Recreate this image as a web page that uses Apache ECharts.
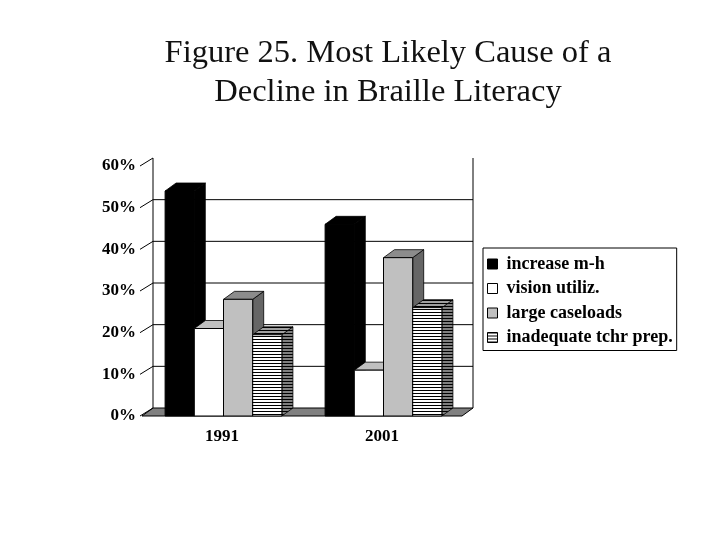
<!DOCTYPE html>
<html>
<head>
<meta charset="utf-8">
<script src="https://cdn.jsdelivr.net/npm/echarts@6/dist/echarts.min.js"></script>
<style>
  html, body { margin: 0; padding: 0; background: #fff; }
  #main { width: 720px; height: 540px; }
</style>
</head>
<body>
<div id="main"></div>
<script>
// data
var categories = ['1991', '2001'];
var seriesNames = ['increase m-h', 'vision utiliz.', 'large caseloads', 'inadequate tchr prep.'];
var increaseMH = [54, 46];
var visionUtiliz = [21, 11];
var largeCaseloads = [28, 38];
var inadequatePrep = [19.5, 26];
var yTicks = [0, 10, 20, 30, 40, 50, 60];

var DX = 11, DY = -8;   // depth offset of the fake 3d
var SERIF = '"Liberation Serif", "Times New Roman", serif';

// striped fill (horizontal lines)
function stripes(bg) {
    var c = document.createElement('canvas');
    c.width = 4; c.height = 3;
    var ctx = c.getContext('2d');
    ctx.fillStyle = bg;
    ctx.fillRect(0, 0, 4, 3);
    ctx.fillStyle = '#000';
    ctx.fillRect(0, 0, 4, 1);
    return { image: c, repeat: 'repeat' };
}

var faces = [
    { front: '#000000', top: '#000000', side: '#000000' },
    { front: '#ffffff', top: '#c0c0c0', side: '#808080' },
    { front: '#c0c0c0', top: '#8c8c8c', side: '#666666' },
    { front: stripes('#ffffff'), top: stripes('#a0a0a0'), side: stripes('#808080') }
];
var values = [increaseMH, visionUtiliz, largeCaseloads, inadequatePrep];

function bar3d(k) {
    var f = faces[k];
    return function (params, api) {
        var cat = api.value(0), val = api.value(1);
        var base = api.coord([cat, 0]);
        var top = api.coord([cat, val]);
        var band = api.size([1, 0])[0];
        var w = band * 0.1825;
        var x0 = base[0] - 2 * w + k * w + 1.5;
        var y0 = base[1], y1 = top[1];
        return {
            type: 'group',
            children: [
                { type: 'polygon',
                  shape: { points: [[x0 + w, y1], [x0 + w + DX, y1 + DY], [x0 + w + DX, y0 + DY], [x0 + w, y0]] },
                  style: { fill: f.side, stroke: '#000', lineWidth: 0.8 } },
                { type: 'polygon',
                  shape: { points: [[x0, y1], [x0 + DX, y1 + DY], [x0 + w + DX, y1 + DY], [x0 + w, y1]] },
                  style: { fill: f.top, stroke: '#000', lineWidth: 0.8 } },
                { type: 'rect',
                  shape: { x: x0, y: y1, width: w, height: y0 - y1 },
                  style: { fill: f.front, stroke: '#000', lineWidth: 1 } }
            ]
        };
    };
}

// floor, back wall gridlines, slanted ticks
function frame(params, api) {
    var v = api.value(1);
    var y = api.coord([0, v])[1];
    var yb = api.coord([0, 0])[1];
    var cs = params.coordSys;
    var left = cs.x, right = cs.x + cs.width;
    var line = { stroke: '#000', lineWidth: 1 };
    var kids = [
        { type: 'line', shape: { x1: left - 2, y1: y, x2: left + DX, y2: y + DY }, style: line }
    ];
    if (v === 0) {
        kids.unshift({ type: 'polygon',
            shape: { points: [[left, y], [left + DX, y + DY], [right + DX, y + DY], [right, y]] },
            style: { fill: '#808080', stroke: '#000', lineWidth: 1 } });
    } else if (v === 60) {
        kids.push({ type: 'line', shape: { x1: left + DX, y1: y + DY, x2: left + DX, y2: yb + DY }, style: line });
        kids.push({ type: 'line', shape: { x1: right + DX, y1: y + DY, x2: right + DX, y2: yb + DY }, style: line });
    } else {
        kids.push({ type: 'line', shape: { x1: left + DX, y1: y + DY, x2: right + DX, y2: y + DY }, style: line });
    }
    return { type: 'group', children: kids };
}

var series = [{
    type: 'custom',
    name: 'frame',
    z: 1,
    clip: false,
    silent: true,
    renderItem: frame,
    encode: { x: 0, y: 1 },
    data: yTicks.map(function (v) { return [0, v]; })
}];
seriesNames.forEach(function (name, k) {
    series.push({
        type: 'custom',
        name: name,
        z: 2,
        clip: false,
        renderItem: bar3d(k),
        encode: { x: 0, y: 1 },
        itemStyle: { color: faces[k].front, borderColor: '#000', borderWidth: 1 },
        data: values[k].map(function (v, i) { return [i, v]; })
    });
});

var chart = echarts.init(document.getElementById('main'));
chart.setOption({
    animation: false,
    backgroundColor: '#fff',
    title: {
        text: 'Figure 25. Most Likely Cause of a\nDecline in Braille Literacy',
        left: 388,
        top: 34,
        padding: 0,
        textAlign: 'center',
        textStyle: { fontFamily: SERIF, fontWeight: 'normal', fontSize: 32.5, lineHeight: 39, color: '#111' }
    },
    legend: {
        orient: 'vertical',
        left: 483,
        top: 248,
        padding: [7, 4, 4, 4],
        itemWidth: 10,
        itemHeight: 10,
        itemGap: 6.5,
        icon: 'rect',
        borderColor: '#000',
        borderWidth: 1,
        backgroundColor: '#fff',
        data: seriesNames.map(function (n, k) {
            return { name: n, itemStyle: { color: faces[k].front, borderColor: '#000', borderWidth: 1 } };
        }),
        textStyle: { fontFamily: SERIF, fontWeight: 'bold', fontSize: 18, lineHeight: 18, color: '#000', padding: [0, 0, 0, 4] }
    },
    grid: { left: 142, right: 258, top: 166, bottom: 124 },
    xAxis: {
        type: 'category',
        data: categories,
        axisLine: { show: false },
        axisTick: { show: false },
        axisLabel: { margin: 12, fontFamily: SERIF, fontWeight: 'bold', fontSize: 17, color: '#000' }
    },
    yAxis: {
        type: 'value',
        min: 0,
        max: 60,
        interval: 10,
        axisLine: { show: false },
        axisTick: { show: false },
        splitLine: { show: false },
        axisLabel: { margin: 6, formatter: '{value}%', fontFamily: SERIF, fontWeight: 'bold', fontSize: 17, color: '#000' }
    },
    series: series
});
</script>
</body>
</html>
